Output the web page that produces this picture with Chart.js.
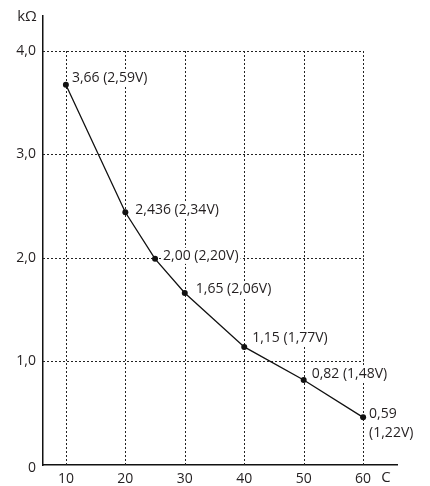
<!DOCTYPE html>
<html>
<head>
<meta charset="utf-8">
<script src="https://cdn.jsdelivr.net/npm/chart.js@4"></script>
<style>
  html, body { margin: 0; padding: 0; background: #fff; }
  canvas { display: block; }
</style>
</head>
<body>
<canvas id="chart" width="430" height="486"></canvas>
<script>
// values (last mark sits lower than its 0,59 note)
const capValues = [10, 20, 25, 30, 40, 50, 60];
const resistance = [3.67, 2.44, 1.99, 1.66, 1.14, 0.82, 0.46];
const pointNotes = [
    ['3,66 (2,59V)'],
    ['2,436 (2,34V)'],
    ['2,00 (2,20V)'],
    ['1,65 (2,06V)'],
    ['1,15 (1,77V)'],
    ['0,82 (1,48V)'],
    ['0,59', '(1,22V)']
];
const xTicks = [10, 20, 30, 40, 50, 60];
const yTicks = [0, 1, 2, 3, 4];
const yTickText = ['0', '1,0', '2,0', '3,0', '4,0'];

// label placement relative to each point (dx, dy in px)
const noteShift = [[6, -7], [10, -2], [8, -3], [11, -4], [8, -9], [8, -6], [6, -3]];

const FONT = '14px "Open Sans", sans-serif';
const INK = '#231f20';

const decor = {
    id: 'decor',
    beforeDatasetsDraw(chart) {
        const { ctx, scales: { x, y }, chartArea } = chart;
        ctx.save();
        // dotted grid, boxed to 0..4 and up to 60
        ctx.strokeStyle = '#222';
        ctx.lineWidth = 1;
        ctx.setLineDash([2, 2]);
        const top = y.getPixelForValue(4), bot = y.getPixelForValue(0);
        const right = x.getPixelForValue(60);
        xTicks.forEach(v => {
            const px = Math.round(x.getPixelForValue(v)) + 0.5;
            ctx.beginPath(); ctx.moveTo(px, bot); ctx.lineTo(px, top); ctx.stroke();
        });
        yTicks.filter(v => v > 0).forEach(v => {
            const py = Math.round(y.getPixelForValue(v)) + 0.5;
            ctx.beginPath(); ctx.moveTo(chartArea.left, py); ctx.lineTo(right + 0.5, py); ctx.stroke();
        });
        ctx.setLineDash([]);

        // point notes with white backing
        ctx.font = FONT;
        ctx.textBaseline = 'middle';
        ctx.textAlign = 'left';
        capValues.forEach((c, i) => {
            const px = x.getPixelForValue(c) + noteShift[i][0];
            let py = y.getPixelForValue(resistance[i]) + noteShift[i][1];
            pointNotes[i].forEach(line => {
                const w = ctx.measureText(line).width;
                ctx.fillStyle = '#fff';
                ctx.fillRect(px - 2, py - 8, w + 4, 16);
                ctx.fillStyle = INK;
                ctx.fillText(line, px, py);
                py += 19;
            });
        });
        ctx.restore();
    },
    afterDraw(chart) {
        const { ctx } = chart;
        ctx.save();
        ctx.font = '15px "Open Sans", sans-serif';
        ctx.fillStyle = INK;
        ctx.textBaseline = 'middle';
        ctx.textAlign = 'center';
        ctx.fillText('kΩ', 27, 17);
        ctx.fillText('C', 386, 478);
        ctx.textAlign = 'right';
        ctx.font = FONT;
        ctx.fillText('0', 36, 468);
        ctx.restore();
    }
};

new Chart(document.getElementById('chart'), {
    type: 'scatter',
    data: {
        datasets: [{
            data: capValues.map((c, i) => ({ x: c, y: resistance[i] })),
            showLine: true,
            borderColor: '#111',
            borderWidth: 1.3,
            backgroundColor: '#111',
            pointRadius: 3,
            pointBorderWidth: 0,
            tension: 0
        }]
    },
    options: {
        responsive: false,
        animation: false,
        layout: { padding: { top: 12, right: 33, left: 0, bottom: 0 } },
        plugins: { legend: { display: false }, tooltip: { enabled: false } },
        scales: {
            x: {
                type: 'linear',
                min: 6.15,
                max: 65.7,
                afterBuildTicks: s => { s.ticks = xTicks.map(v => ({ value: v })); },
                afterFit: s => { s.height = 21; },
                grid: { display: false, drawTicks: false },
                border: { display: true, color: '#111', width: 1.5 },
                ticks: { color: INK, font: { family: '"Open Sans", sans-serif', size: 14 }, padding: 6, maxRotation: 0 }
            },
            y: {
                type: 'linear',
                min: 0,
                max: 4.34,
                afterBuildTicks: s => { s.ticks = yTicks.map(v => ({ value: v })); },
                afterFit: s => { s.width = 43; },
                grid: { display: false, drawTicks: false },
                border: { display: true, color: '#111', width: 1.5 },
                ticks: {
                    color: INK,
                    font: { family: '"Open Sans", sans-serif', size: 14 },
                    padding: 7,
                    // zero is drawn by hand a little lower, as in the source
                    callback: (v, i) => (i === 0 ? '' : yTickText[i])
                }
            }
        }
    },
    plugins: [decor]
});
</script>
</body>
</html>
